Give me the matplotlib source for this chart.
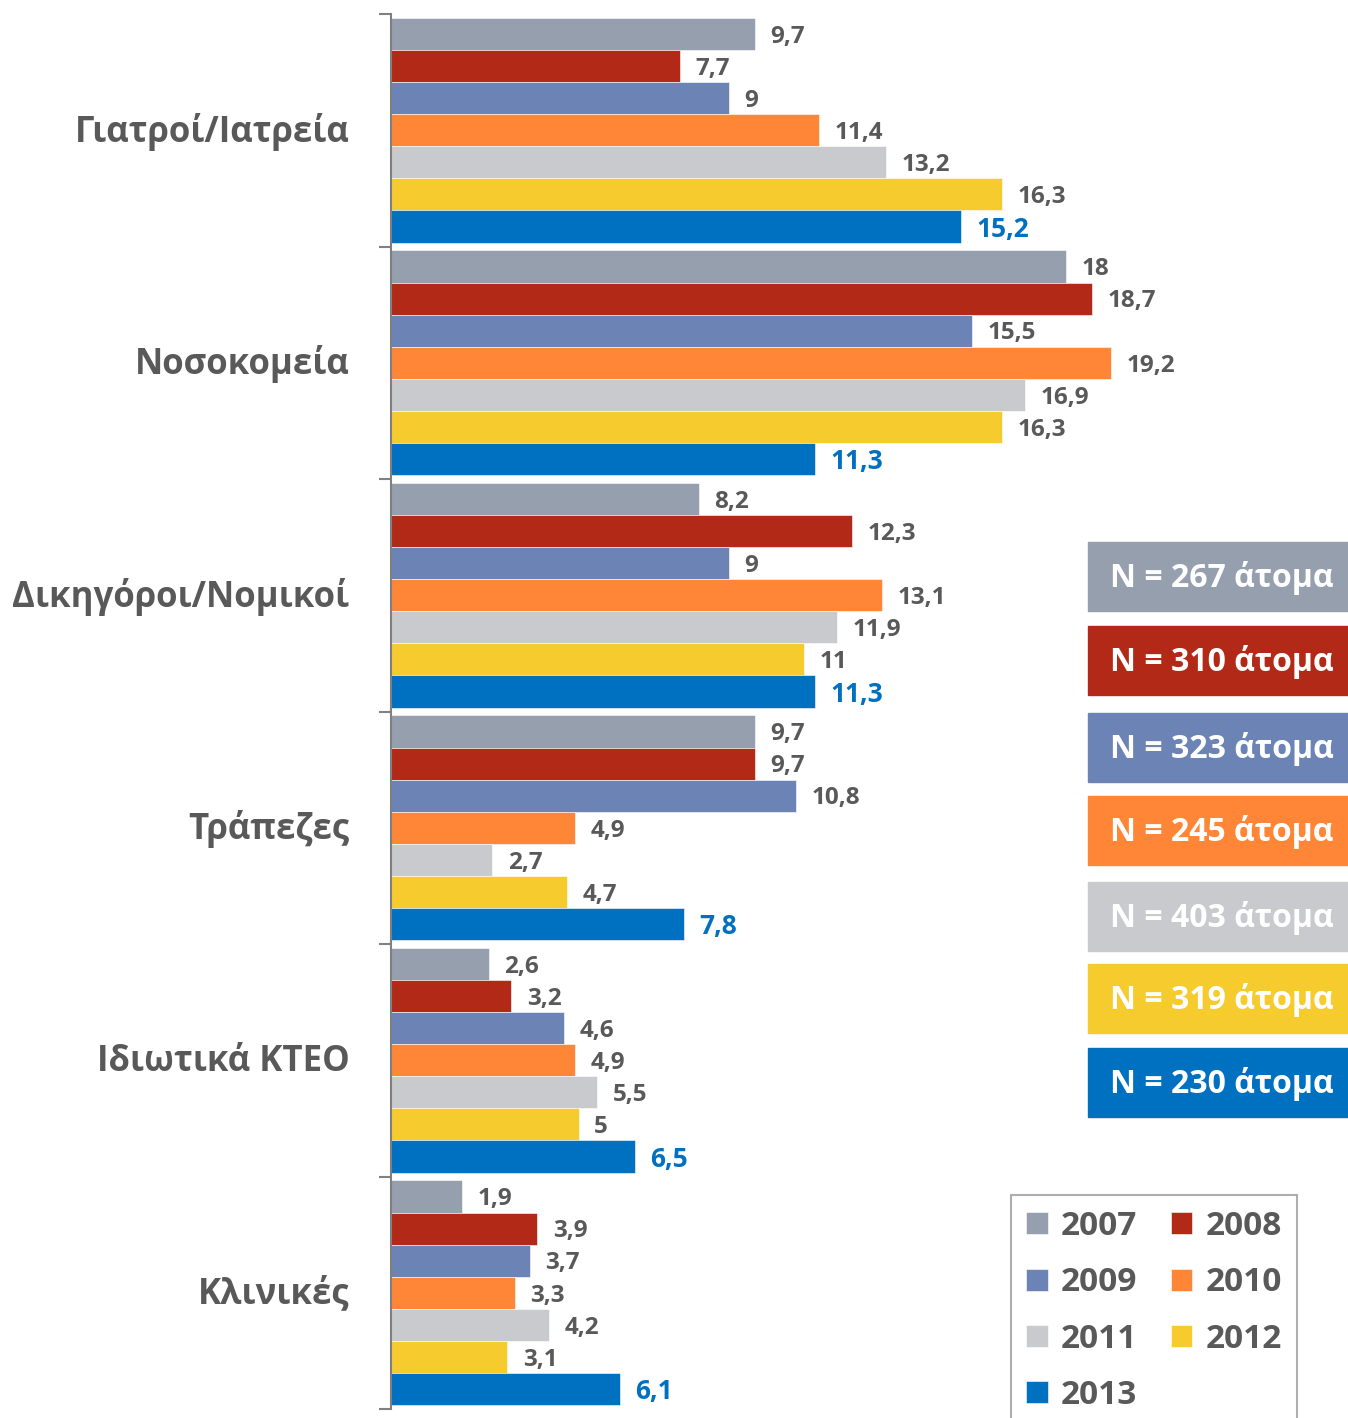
import matplotlib.pyplot as plt
import numpy as np
from matplotlib.patches import Rectangle

categories = ['Γιατροί/Ιατρεία', 'Νοσοκομεία', 'Δικηγόροι/Νομικοί',
              'Τράπεζες', 'Ιδιωτικά ΚΤΕΟ', 'Κλινικές']
years = ['2007', '2008', '2009', '2010', '2011', '2012', '2013']
values = {
    '2007': [9.7, 18.0, 8.2, 9.7, 2.6, 1.9],
    '2008': [7.7, 18.7, 12.3, 9.7, 3.2, 3.9],
    '2009': [9.0, 15.5, 9.0, 10.8, 4.6, 3.7],
    '2010': [11.4, 19.2, 13.1, 4.9, 4.9, 3.3],
    '2011': [13.2, 16.9, 11.9, 2.7, 5.5, 4.2],
    '2012': [16.3, 16.3, 11.0, 4.7, 5.0, 3.1],
    '2013': [15.2, 11.3, 11.3, 7.8, 6.5, 6.1],
}
sample_sizes = ['267', '310', '323', '245', '403', '319', '230']
colors = ['#969FAD', '#B22A17', '#6C83B5', '#FF8636', '#C9CACD', '#F5CB2D', '#0070C0']

plt.rcParams['font.family'] = ['Open Sans', 'DejaVu Sans']
text_gray = '#595959'

W, H = 1348, 1418
fig = plt.figure(figsize=(W / 100, H / 100), dpi=100)
ax = fig.add_axes([391 / W, 1 - 1409 / H, (W - 391) / W, (1409 - 14) / H])

h = 0.138
y = np.arange(len(categories))
bar_handles = []
for j, yr in enumerate(years):
    pos = y + (j - 3) * h
    b = ax.barh(pos, values[yr], height=h, color=colors[j], label=yr,
                edgecolor='white', linewidth=0.4)
    bar_handles.append(b)
    for p, v in zip(pos, values[yr]):
        s = ('%g' % v).replace('.', ',')
        is_last = yr == '2013'
        ax.text(v + 0.42, p + 0.012, s, va='center', ha='left',
                fontsize=19 if is_last else 17.5, fontweight='bold',
                color='#0070C0' if is_last else text_gray)

ax.set_xlim(0, (W - 391) / 37.5)
ax.set_ylim(len(categories) - 0.5, -0.5)

for s in ['top', 'right', 'bottom']:
    ax.spines[s].set_visible(False)
ax.spines['left'].set_color('#808080')
ax.spines['left'].set_linewidth(1.5)
ax.set_xticks([])
ax.set_yticks(np.arange(len(categories) + 1) - 0.5)
ax.set_yticklabels([])
ax.tick_params(axis='y', which='major', length=9, width=1.5, color='#808080')
ax.set_yticks(y - 0.012, minor=True)
ax.set_yticklabels(categories, minor=True, fontsize=25, fontweight='bold', color=text_gray)
ax.tick_params(axis='y', which='minor', length=0, pad=30)

# sample size boxes
box_tops = [542, 626, 713, 796, 882, 964, 1048]
for top, n, c in zip(box_tops, sample_sizes, colors):
    fig.patches.append(Rectangle((1088 / W, 1 - (top + 69) / H), (W - 1088) / W, 69 / H,
                                 transform=fig.transFigure, color=c))
    fig.text(1222 / W, 1 - (top + 36) / H, 'N = %s άτομα' % n, ha='center', va='center',
             fontsize=23, fontweight='bold', color='white')

order = [0, 2, 4, 6, 1, 3, 5]
leg = fig.legend([bar_handles[i] for i in order], [years[i] for i in order],
                 loc='upper left', bbox_to_anchor=(1011 / W, 1 - 1195 / H),
                 borderaxespad=0, ncol=2, fontsize=24, frameon=True, fancybox=False,
                 handlelength=0.65, handleheight=0.65, handletextpad=0.4,
                 columnspacing=1.0, labelspacing=0.7, borderpad=0.45)
leg.get_frame().set_edgecolor('#9a9a9a')
leg.get_frame().set_linewidth(1.5)
for t in leg.get_texts():
    t.set_color(text_gray)
    t.set_fontweight('bold')

fig.savefig('out.png', dpi=100)
